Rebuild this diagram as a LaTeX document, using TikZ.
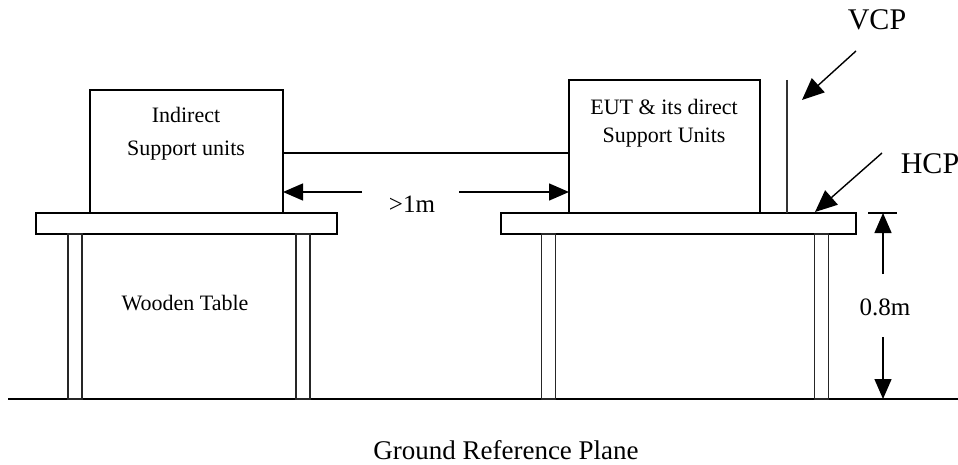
\documentclass[tikz,border=0pt]{standalone}
\usepackage{fontspec}
\setmainfont{Liberation Serif}
\usetikzlibrary{arrows.meta}
\begin{document}
\begin{tikzpicture}[x=1pt,y=-1pt,
  line width=1.3pt,
  unitbox/.style={draw, line width=1.4pt, inner sep=0pt, outer sep=0pt},
  tabletop/.style={draw, line width=1.2pt, inner sep=0pt, outer sep=0pt, minimum height=21pt},
  tableleg/.style={draw=black!85, line width=1.1pt, inner sep=0pt, outer sep=0pt, minimum width=14pt, minimum height=165pt},
  boxtext/.style={font=\fontsize{22}{26}\selectfont, anchor=base, inner sep=0pt},
  dimtext/.style={font=\fontsize{25}{30}\selectfont, anchor=base, inner sep=0pt},
  groundtext/.style={font=\fontsize{27}{32}\selectfont, anchor=base, inner sep=0pt},
  planetext/.style={font=\fontsize{30}{36}\selectfont, anchor=base, inner sep=0pt},
  dimarrow/.style={-{Triangle[length=20pt,width=17pt]}, line width=1.4pt},
  bigarrow/.style={-{Triangle[length=22pt,width=19pt]}, line width=1.4pt}]
\useasboundingbox (0,0) rectangle (958,465);

% ground
\coordinate (gl) at (8,399);
\coordinate (gr) at (958,399);
\draw[line width=1.3pt] (gl) -- (gr);

% left table
\node[tabletop, minimum width=301pt] (ltop) at (186.5,223.5) {};
\node[tableleg] (ll1) at (75,316.5) {};
\node[tableleg] (ll2) at (303,316.5) {};
\node[unitbox, minimum width=193pt, minimum height=123pt] (lbox) at (186.5,151.5) {};

% right table
\node[tabletop, minimum width=355pt] (rtop) at (678.5,223.5) {};
\node[tableleg] (rl1) at (548.5,316.5) {};
\node[tableleg] (rl2) at (821.5,316.5) {};
\node[unitbox, minimum width=191pt, minimum height=133pt] (rbox) at (664.5,146.5) {};

% VCP plane
\coordinate (vcptop) at (787,80);
\coordinate (vcpbot) at (787,213);
\draw[line width=1.2pt, black!80] (vcptop) -- (vcpbot);

% texts
\node[boxtext] (t1) at (186,123) {Indirect};
\node[boxtext] (t2) at (186,156) {Support units};
\node[boxtext] (t3) at (664,115) {EUT \& its direct};
\node[boxtext] (t4) at (664,143) {Support Units};
\node[boxtext] (t5) at (185,310) {Wooden Table};
\node[dimtext] (t6) at (412,213) {>1m};
\node[dimtext] (t7) at (885,315) {0.8m};
\node[planetext] (vcp) at (877,30) {VCP};
\node[planetext] (hcp) at (930,174) {HCP};
\node[groundtext] (grp) at (506,459) {Ground Reference Plane};

% cable
\draw[line width=1.3pt] (lbox.east |- 0,153) -- (rbox.west |- 0,153);

% >1m arrows
\coordinate (ga) at (362,192);
\coordinate (gb) at (459,192);
\draw[dimarrow] (ga) -- (lbox.east |- ga);
\draw[dimarrow] (gb) -- (rbox.west |- gb);

% VCP / HCP arrows
\coordinate (va) at (856,51);
\coordinate (vb) at (802,100);
\draw[bigarrow] (va) -- (vb);
\coordinate (ha) at (882,153);
\coordinate (hb) at (815,212);
\draw[bigarrow] (ha) -- (hb);

% height dimension
\coordinate (tk1) at (868,213);
\coordinate (tk2) at (897,213);
\draw[line width=1.3pt] (tk1) -- (tk2);
\coordinate (ua) at (883,274);
\coordinate (ub) at (883,213);
\draw[dimarrow] (ua) -- (ub);
\coordinate (da) at (883,337);
\coordinate (db) at (883,399);
\draw[dimarrow] (da) -- (db);
\end{tikzpicture}
\end{document}
